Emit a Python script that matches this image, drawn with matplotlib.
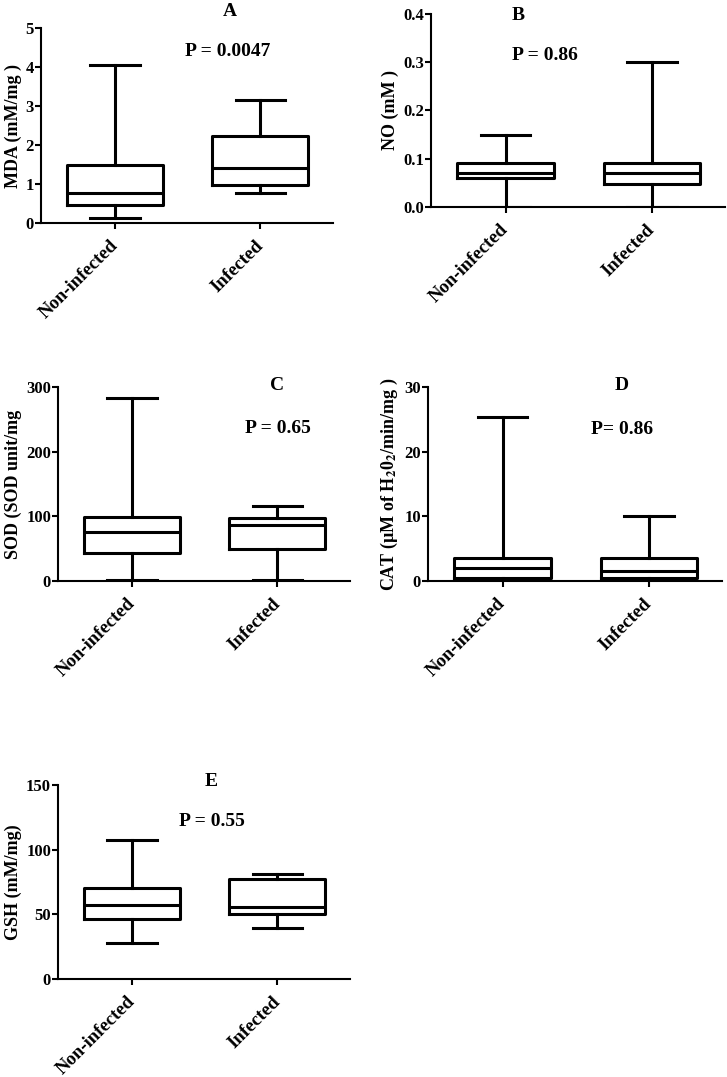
import numpy as np
import matplotlib
matplotlib.use("Agg")
import matplotlib.pyplot as plt

plt.rcParams.update({"font.family": "Liberation Serif", "font.weight": "bold",
                     "mathtext.fontset": "stix", "mathtext.default": "bf",
                     "axes.linewidth": 1.5, "axes.labelweight": "bold",
                     "xtick.major.width": 1.5, "ytick.major.width": 1.5,
                     "xtick.major.size": 4.5, "ytick.major.size": 4,
                     "axes.spines.top": False, "axes.spines.right": False})

GROUPS = ["Non-infected", "Infected"]

# (whisker low, q1, median, q3, whisker high) for each group
MDA = [[0.13, 0.45, 0.77, 1.48, 4.05], [0.77, 0.98, 1.42, 2.24, 3.15]]
NO = [[0.0, 0.059, 0.069, 0.090, 0.149], [0.0, 0.048, 0.070, 0.090, 0.300]]
SOD = [[1.0, 44, 76, 99, 283], [1.0, 50, 87, 98, 116]]
CAT = [[0.1, 0.4, 2.05, 3.6, 25.3], [0.1, 0.5, 1.55, 3.5, 10.05]]
GSH = [[27.8, 46.3, 57.3, 70.5, 107.5], [39.4, 50.6, 55.5, 77.0, 81.5]]

YLABELS = ["MDA (mM/mg )", "NO (mM )", "SOD (SOD unit/mg",
           "CAT (\u00b5M of H$_2$0$_2$/min/mg )", "GSH (mM/mg)"]
PANELS = ["A", "B", "C", "D", "E"]
PVALS = ["P = 0.0047", "P = 0.86", "P = 0.65", "P= 0.86", "P = 0.55"]
YTICKS = [np.arange(0, 6, 1), np.arange(0, 0.5, 0.1), np.arange(0, 400, 100),
          np.arange(0, 40, 10), np.arange(0, 200, 50)]

W, H = 727, 1077
# pixel boxes: left, right, top, bottom
BOXES = [(41, 333, 28, 223), (431, 725, 14, 206.7), (58, 350, 387, 581),
         (428, 722, 387, 581), (58, 350, 785, 979)]
# title / p-value centres (pixels)
TITLE_XY = [(230, 12), (518, 15), (277, 386), (622, 386), (211, 781)]
P_XY = [(228, 52), (545, 55), (278, 428), (622, 429), (212, 822)]

fig = plt.figure(figsize=(W / 100, H / 100), dpi=100)
data = [MDA, NO, SOD, CAT, GSH]
lw = 2.2
for i, stats_raw in enumerate(data):
    l, r, t, b = BOXES[i]
    ax = fig.add_axes([l / W, 1 - b / H, (r - l) / W, (b - t) / H])
    stats = [dict(whislo=s[0], q1=s[1], med=s[2], q3=s[3], whishi=s[4], label=g)
             for s, g in zip(stats_raw, GROUPS)]
    props = dict(color="black", linewidth=lw)
    ax.bxp(stats, positions=[1, 2], widths=0.66, capwidths=0.34,
           showfliers=False, boxprops=props, whiskerprops=props,
           capprops=props, medianprops=props)
    ax.set_xlim(0.49, 2.5)
    ticks = YTICKS[i]
    ax.set_ylim(ticks[0], ticks[-1])
    ax.set_yticks(ticks)
    if i == 1:
        ax.set_yticklabels([f"{v:.1f}" for v in ticks])
    ax.tick_params(axis="y", labelsize=12, pad=1)
    ax.set_xticks([1, 2])
    ax.set_xticklabels(GROUPS, rotation=45, ha="right", va="center",
                       rotation_mode="anchor", fontsize=13.5)
    ax.tick_params(axis="x", pad=10)
    ax.set_ylabel(YLABELS[i], fontsize=13, labelpad=3)
    fig.text(TITLE_XY[i][0] / W, 1 - TITLE_XY[i][1] / H, PANELS[i],
             ha="center", va="center", fontsize=14, weight="bold")
    fig.text(P_XY[i][0] / W, 1 - P_XY[i][1] / H, PVALS[i],
             ha="center", va="center", fontsize=14, weight="bold")

fig.savefig("out.png", dpi=100)
